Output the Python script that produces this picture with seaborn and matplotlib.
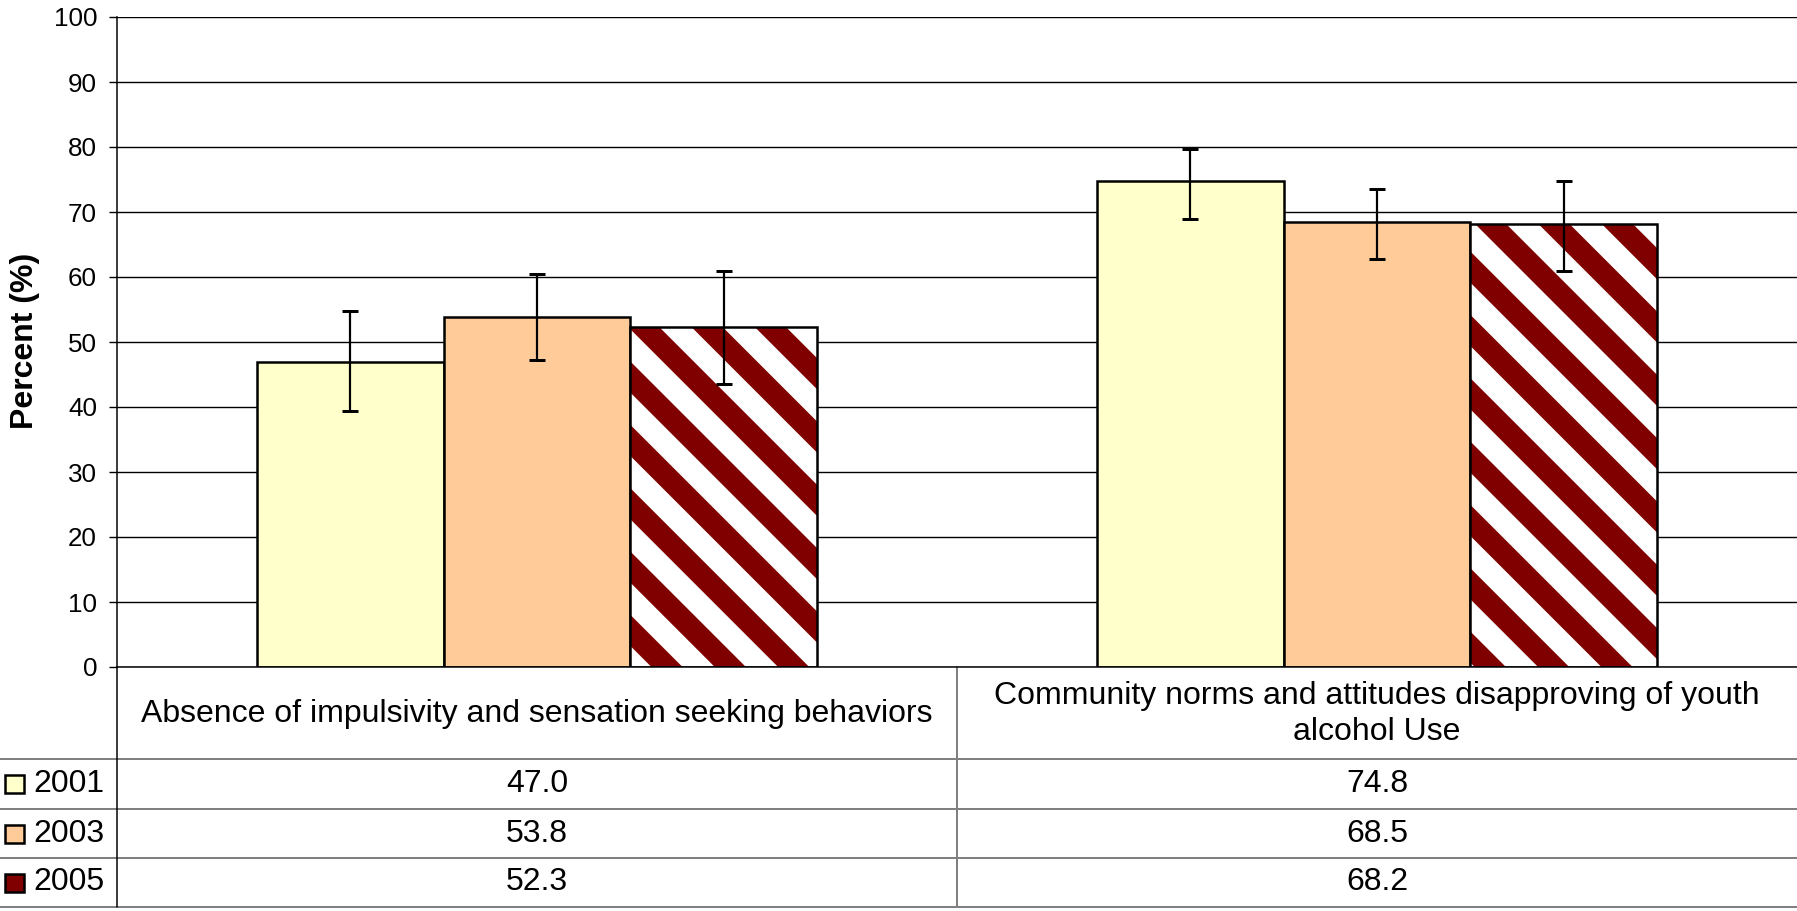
"""
Protective factors chart - percent by survey year with data table underneath.
"""

import numpy as np
import pandas as pd
import matplotlib
matplotlib.use('Agg')
import matplotlib.pyplot as plt
import matplotlib.transforms as mtransforms
from matplotlib.patches import Rectangle
from matplotlib.lines import Line2D
import seaborn as sns

# ── Data ──────────────────────────────────────────────────────────────────────
categories = ['Absence of impulsivity and sensation seeking behaviors',
              'Community norms and attitudes disapproving of youth\nalcohol Use']
years = ['2001', '2003', '2005']

pct_2001 = [47.0, 74.8]
pct_2003 = [53.8, 68.5]
pct_2005 = [52.3, 68.2]

low_2001 = [39.4, 69.0]
high_2001 = [54.7, 79.7]
low_2003 = [47.2, 62.8]
high_2003 = [60.4, 73.6]
low_2005 = [43.5, 60.9]
high_2005 = [60.9, 74.7]

yticks = list(range(0, 101, 10))

# ── Styling ───────────────────────────────────────────────────────────────────
W, H, DPI = 1797, 911, 380
COLORS = {'2001': '#FFFFCC', '2003': '#FFCC99', '2005': '#800000'}
GRID = '#808080'


def pt(px):
    # pixel size -> points at the output dpi
    return px * 72 / DPI


def fy(y):
    # pixel row (from top) -> figure fraction
    return 1 - y / H


sns.set_theme(style='white')
plt.rcParams.update({'font.family': ['Liberation Sans', 'DejaVu Sans'],
                     'hatch.linewidth': pt(22),
                     'text.color': 'black'})

values = {'2001': pct_2001, '2003': pct_2003, '2005': pct_2005}
lows = {'2001': low_2001, '2003': low_2003, '2005': low_2005}
highs = {'2001': high_2001, '2003': high_2003, '2005': high_2005}

df = pd.DataFrame([(c, y, values[y][i]) for y in years
                   for i, c in enumerate(categories)],
                  columns=['category', 'year', 'pct'])

# ── Chart ─────────────────────────────────────────────────────────────────────
fig = plt.figure(figsize=(W / DPI, H / DPI), dpi=DPI)
fig.patch.set_facecolor('white')
ax = fig.add_axes([117 / W, fy(667), (W - 117) / W, 650 / H])

sns.barplot(data=df, x='category', y='pct', hue='year', order=categories,
            hue_order=years, palette=COLORS, saturation=1, width=0.667,
            gap=0, edgecolor='black', linewidth=pt(2.5), errorbar=None,
            legend=False, ax=ax)

for year, cont in zip(years, ax.containers):
    xs = [p.get_x() + p.get_width() / 2 for p in cont]
    hs = [p.get_height() for p in cont]
    if year == '2005':
        for p in cont:
            p.set_facecolor('white')
            p.set_edgecolor(COLORS['2005'])
            p.set_hatch('\\\\')
            p.set_linewidth(0)
        ax.bar(xs, hs, width=cont[0].get_width(), fill=False,
               edgecolor='black', linewidth=pt(2.5), zorder=1.5)
    v = np.array(values[year])
    yerr = [v - np.array(lows[year]), np.array(highs[year]) - v]
    ax.errorbar(xs, v, yerr=yerr, fmt='none', ecolor='black',
                elinewidth=pt(2.2), capsize=pt(8), capthick=pt(3), zorder=3)

ax.set_xlim(-0.5, 1.5)
ax.set_ylim(0, 100)
ax.set_yticks(yticks)
ax.set_yticklabels([str(t) for t in yticks])
ax.set_xticks([])
ax.set_xlabel('')
ax.set_ylabel('')
ax.set_axisbelow(True)
ax.yaxis.grid(True, color='black', linewidth=pt(1.4))
ax.tick_params(axis='y', left=True, length=pt(8), width=pt(1.4), pad=pt(12),
               labelsize=pt(26), color='black', labelcolor='black')
for side in ['top', 'right']:
    ax.spines[side].set_visible(False)
for side in ['left', 'bottom']:
    ax.spines[side].set_color('black')
    ax.spines[side].set_linewidth(pt(1.5))

fig.text(25 / W, fy(341), 'Percent (%)', rotation=90, ha='center',
         va='center', fontsize=pt(32), fontweight='bold')

# ── Data table below the axes ─────────────────────────────────────────────────
trans = mtransforms.blended_transform_factory(ax.transData, fig.transFigure)
TABLE_FS = pt(32)

for i, c in enumerate(categories):
    ax.text(i, fy(714), c, transform=trans, ha='center', va='center',
            fontsize=TABLE_FS, multialignment='center', linespacing=1.22,
            clip_on=False)

row_mid = [784, 833.5, 882.5]
for year, ym in zip(years, row_mid):
    for i, v in enumerate(values[year]):
        ax.text(i, fy(ym), f'{v:.1f}', transform=trans, ha='center',
                va='center', fontsize=TABLE_FS, clip_on=False)
    fig.patches.append(Rectangle((5 / W, fy(ym + 9)), 19 / W, 18 / H,
                                 transform=fig.transFigure,
                                 facecolor=COLORS[year], edgecolor='black',
                                 linewidth=pt(2.5)))
    fig.text(33 / W, fy(ym), year, ha='left', va='center', fontsize=TABLE_FS)

for yl in [759, 809, 858, 907]:
    fig.add_artist(Line2D([0, 1], [fy(yl), fy(yl)], color=GRID,
                          linewidth=pt(2)))
fig.add_artist(Line2D([117 / W, 117 / W], [fy(667), fy(907)], color='black',
                      linewidth=pt(1.5)))
ax.add_artist(Line2D([0.5, 0.5], [fy(667), fy(907)], transform=trans,
                     color=GRID, linewidth=pt(2), clip_on=False))

fig.savefig('out.png', dpi=DPI, facecolor='white')
